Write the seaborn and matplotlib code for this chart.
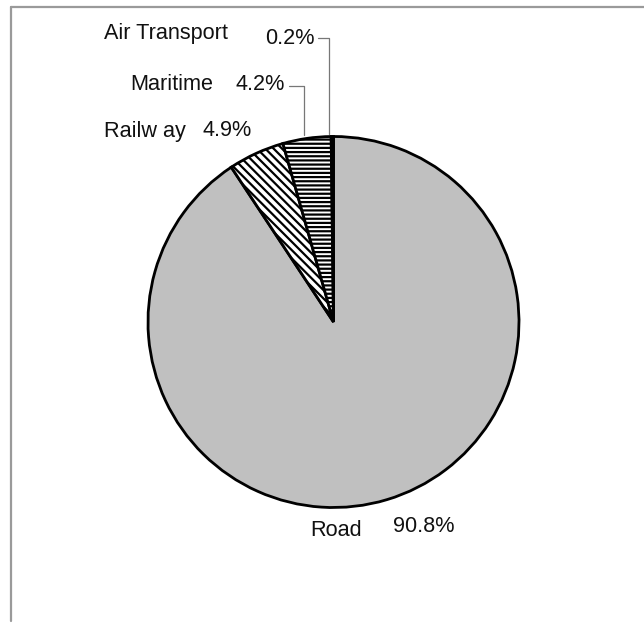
import numpy as np
import matplotlib
matplotlib.use("Agg")
import matplotlib.pyplot as plt
from matplotlib.lines import Line2D
import seaborn as sns

# Freight transport modal split
modes = ["Road", "Railway", "Maritime", "Air Transport"]
shares = [90.8, 4.9, 4.2, 0.2]

sns.set_theme(style="white")
plt.rcParams["font.family"] = ["Liberation Sans", "DejaVu Sans"]
plt.rcParams["hatch.linewidth"] = 1.6

W, H = 644, 633
fig = plt.figure(figsize=(W / 100, H / 100), dpi=100)
ax = fig.add_axes([0, 0, 1, 1])

cx, cy, r = 333.5, H - 322, 185.5
colors = ["#c0c0c0", "white", "white", "black"]
hatches = [None, "\\\\\\\\", "----", None]

wedges, _ = ax.pie(
    shares, colors=colors, startangle=90, counterclock=False,
    center=(cx, cy), radius=r, frame=True,
    wedgeprops=dict(edgecolor="black", linewidth=2),
)
for w, h in zip(wedges, hatches):
    if h:
        w.set_hatch(h)
ax.set_xlim(0, W)
ax.set_ylim(0, H)
ax.axis("off")

fs = 15.6
txt = "#111111"
# Label layout in pixel space: name x, name y, value x, value y
label_pos = {
    "Air Transport": (104, 33, 265, 39),
    "Maritime": (130, 85, 236, 84),
    "Railway": (104, 131, 203, 130),
    "Road": (310, 530, 393, 527),
}
for mode, val in zip(modes, shares):
    nx, ny, vx, vy = label_pos[mode]
    name = "Railw ay" if mode == "Railway" else mode
    ax.text(nx, H - ny, name, fontsize=fs, va="center", ha="left", color=txt)
    ax.text(vx, H - vy, f"{val:.1f}%", fontsize=fs, va="center", ha="left", color=txt)

# Leader lines for the two thin wedges, ending at the wedge mid-angles
leader_y = {"Air Transport": 38, "Maritime": 86}
for w, mode in zip(wedges, modes):
    if mode not in leader_y:
        continue
    mid = np.deg2rad((w.theta1 + w.theta2) / 2)
    ex = cx + r * np.cos(mid) - 3
    ey = cy + r * np.sin(mid)
    vx = label_pos[mode][2]
    sx = vx + 53
    ly = H - leader_y[mode]
    ax.plot([sx, ex, ex], [ly, ly, ey + 3], color="#777777", lw=0.9)

# Outer chart frame
fig.add_artist(Line2D([11 / W, 1], [1 - 7 / H, 1 - 7 / H], color="#9a9a9a", lw=1.6,
                      transform=fig.transFigure))
fig.add_artist(Line2D([11 / W, 11 / W], [1 - 7 / H, 1 - 621 / H], color="#9a9a9a", lw=1.6,
                      transform=fig.transFigure))

fig.savefig("out.png", dpi=100, facecolor="white")
